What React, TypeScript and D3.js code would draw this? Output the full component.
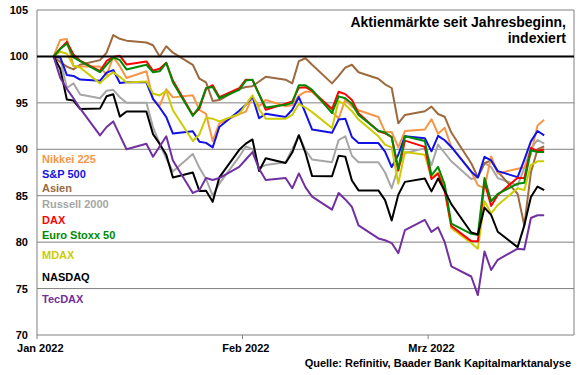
import * as d3 from "d3";

// trading days shown in the chart
const dates = [
  "2022-01-03", "2022-01-04", "2022-01-05", "2022-01-06", "2022-01-07",
  "2022-01-10", "2022-01-11", "2022-01-12", "2022-01-13", "2022-01-14",
  "2022-01-17", "2022-01-18", "2022-01-19", "2022-01-20", "2022-01-21",
  "2022-01-24", "2022-01-25", "2022-01-26", "2022-01-27", "2022-01-28",
  "2022-01-31", "2022-02-01", "2022-02-02", "2022-02-03", "2022-02-04",
  "2022-02-07", "2022-02-08", "2022-02-09", "2022-02-10", "2022-02-11",
  "2022-02-14", "2022-02-15", "2022-02-16", "2022-02-17", "2022-02-18",
  "2022-02-21", "2022-02-22", "2022-02-23", "2022-02-24", "2022-02-25",
  "2022-02-28", "2022-03-01", "2022-03-02", "2022-03-03", "2022-03-04",
  "2022-03-07", "2022-03-08", "2022-03-09", "2022-03-10", "2022-03-11",
  "2022-03-14", "2022-03-15", "2022-03-16", "2022-03-17", "2022-03-18",
];

const nikkei = [
  100, 101.77, 101.88, 98.94, 98.91, 98.91, 98.02, 99.91, 98.95, 97.68,
  98.41, 95.4, 94.67, 96.46, 95.59, 95.82, 94.23, 93.81, 90.9, 92.8,
  93.78, 94.05, 95.63, 94.62, 95.31, 94.64, 94.77, 95.79, 96.2, 96.2,
  94.05, 93.31, 95.38, 94.59, 94.2, 93.47, 91.87, 91.87, 90.2, 91.96,
  92.13, 93.24, 91.67, 92.31, 90.25, 87.6, 86.11, 85.85, 89.23, 87.4,
  87.9, 88.04, 89.48, 92.57, 93.18,
];
const sp500 = [
  100, 99.94, 98.0, 97.9, 97.51, 97.37, 98.26, 98.53, 97.13, 97.21,
  97.21, 95.42, 94.5, 93.46, 91.69, 91.94, 90.82, 90.69, 90.2, 92.4,
  94.14, 94.79, 95.68, 93.34, 93.82, 93.48, 94.26, 95.63, 93.9, 92.12,
  91.77, 93.21, 93.3, 91.32, 90.67, 90.67, 89.75, 88.09, 89.41, 91.41,
  91.19, 89.78, 91.45, 90.97, 90.25, 87.59, 86.95, 89.19, 88.8, 87.65,
  87.0, 88.86, 90.85, 91.97, 91.5,
];
const asien = [
  100, 99.4, 98.9, 98.6, 99.1, 99.6, 100.4, 102.3, 101.9, 101.7,
  101.5, 101.2, 100.0, 101.1, 100.4, 99.1, 97.6, 97.2, 95.2, 95.3,
  96.5, 96.7, 96.8, 97.3, 97.8, 97.5, 97.1, 99.5, 99.8, 99.1,
  97.1, 97.9, 98.8, 99.1, 98.3, 97.6, 97.0, 96.6, 92.8, 93.7,
  94.1, 94.6, 93.8, 93.5, 91.8, 88.5, 87.0, 88.5, 88.8, 87.6,
  85.2, 81.8, 87.5, 90.0, 90.3,
];
const russell = [
  100, 99.8, 96.6, 97.1, 95.9, 95.5, 96.3, 96.4, 95.6, 95.0,
  95.0, 92.4, 90.6, 89.0, 87.6, 89.5, 88.0, 86.8, 85.0, 86.3,
  89.2, 90.3, 90.0, 88.0, 88.3, 88.6, 90.0, 91.5, 89.9, 88.9,
  88.6, 91.0, 91.4, 89.3, 88.6, 88.6, 87.5, 85.8, 88.1, 89.6,
  90.1, 88.3, 90.5, 89.6, 88.7, 86.8, 87.0, 88.5, 88.1, 86.9,
  86.1, 88.0, 90.1, 91.0, 90.6,
];
const dax = [
  100, 100.82, 101.57, 100.2, 99.54, 98.42, 99.51, 99.94, 100.07, 99.14,
  99.46, 98.45, 98.68, 99.32, 97.4, 93.7, 94.4, 96.5, 96.9, 95.62,
  96.57, 97.49, 97.46, 95.93, 94.25, 94.92, 95.14, 96.64, 96.69, 96.28,
  94.34, 96.2, 95.94, 95.3, 93.89, 91.95, 91.71, 91.33, 87.71, 90.93,
  90.26, 86.79, 87.39, 85.5, 81.73, 80.11, 80.09, 86.44, 83.9, 85.07,
  86.94, 86.87, 90.14, 89.81, 89.97,
];
const euroStoxx = [
  100, 100.8, 101.4, 99.9, 99.5, 98.3, 99.1, 99.9, 99.6, 98.6,
  99.1, 98.3, 98.4, 99.3, 97.2, 93.6, 94.6, 96.6, 96.7, 95.5,
  96.4, 97.4, 97.5, 95.9, 94.5, 94.8, 95.0, 96.9, 96.9, 96.4,
  93.9, 95.7, 95.5, 94.9, 93.7, 92.0, 91.8, 91.3, 87.9, 91.4,
  90.9, 87.2, 88.1, 86.2, 82.0, 80.9, 80.8, 86.9, 84.4, 85.2,
  86.3, 86.4, 89.9, 89.7, 89.7,
];
const mdax = [
  100, 100.5, 100.3, 99.0, 98.8, 97.1, 97.8, 98.3, 97.8, 97.2,
  97.3, 96.0, 95.8, 96.3, 94.2, 90.9, 91.6, 93.4, 93.3, 93.0,
  93.8, 94.8, 95.8, 94.3, 93.3, 93.3, 93.7, 94.9, 94.5, 94.0,
  92.3, 95.2, 94.8, 94.1, 93.2, 91.4, 90.5, 90.2, 86.3, 89.7,
  89.4, 86.9, 87.5, 85.8, 81.5, 79.9, 79.3, 84.4, 83.1, 84.0,
  85.8, 85.6, 88.3, 88.7, 88.7,
];
const nasdaq = [
  100, 98.67, 95.37, 95.25, 94.34, 94.38, 95.71, 95.93, 93.52, 94.07,
  94.07, 91.63, 90.58, 89.4, 86.96, 87.51, 85.51, 85.53, 84.34, 86.97,
  89.94, 90.61, 91.06, 87.66, 89.04, 88.52, 89.65, 91.52, 89.6, 87.11,
  87.1, 89.3, 89.21, 86.64, 85.57, 85.57, 84.52, 82.34, 85.1, 86.49,
  86.85, 85.47, 86.86, 85.51, 84.09, 81.04, 80.82, 83.72, 82.93, 81.12,
  79.46, 81.78, 84.86, 85.99, 85.6,
];
const tecdax = [
  100, 97.7, 96.5, 95.5, 94.4, 91.5, 92.4, 93.0, 91.5, 90.0,
  90.6, 89.2, 90.3, 91.4, 88.8, 85.3, 85.6, 86.9, 86.7, 86.9,
  88.1, 88.9, 89.7, 87.9, 86.7, 86.9, 85.8, 87.4, 85.9, 84.9,
  83.5, 85.3, 84.6, 83.8, 81.8, 80.4, 80.2, 79.9, 78.8, 81.3,
  82.4, 81.1, 81.6, 80.0, 77.4, 76.3, 74.3, 79.0, 77.0, 78.1,
  79.3, 79.2, 82.6, 82.9, 82.9,
];

const seriesNames = [
  "Nikkei 225", "S&P 500", "Asien", "Russell 2000", "DAX",
  "Euro Stoxx 50", "MDAX", "NASDAQ", "TecDAX",
];
const seriesValues = [nikkei, sp500, asien, russell, dax, euroStoxx, mdax, nasdaq, tecdax];
const seriesColors = [
  "#F79646", "#1212E6", "#9C6A3E", "#A6A6A6", "#FF0000",
  "#008A00", "#CCCC00", "#000000", "#7030A0",
];

const yTicks = [70, 75, 80, 85, 90, 95, 100, 105];
const monthTicks = ["2022-01-01", "2022-02-01", "2022-03-01"];
const monthLabels = ["Jan 2022", "Feb 2022", "Mrz 2022"];

const titleLines = ["Aktienmärkte seit Jahresbeginn,", "indexiert"];
const source = "Quelle: Refinitiv, Baader Bank Kapitalmarktanalyse";

// layout
const W = 580;
const H = 375;
const left = 37;
const right = 574;
const top = 10;
const bottom = 335;
const legendY = [159, 174, 188, 204, 220, 235, 255, 277, 299];
const drawOrder = [3, 2, 0, 1, 6, 4, 5, 7, 8];
const font = "'Liberation Sans', Arial, sans-serif";

export default function App() {
  const parse = d3.timeParse("%Y-%m-%d");
  const x = d3
    .scaleTime()
    .domain([new Date(2022, 0, 1), new Date(2022, 2, 23)])
    .range([left, right]);
  const y = d3.scaleLinear().domain([70, 105]).range([bottom, top]);

  // points sit in the middle of their day (between tick marks)
  const px = (s: string) => x(d3.timeHour.offset(parse(s) as Date, 12));
  const halfDay = px("2022-01-01") - x(new Date(2022, 0, 1));

  const line = d3
    .line<number>()
    .x((_, i) => px(dates[i]))
    .y((d) => y(d));

  return (
    <svg
      width={W}
      height={H}
      style={{ position: "absolute", left: 0, top: 0, background: "#fff" }}
      fontFamily={font}
      fontWeight="bold"
      fontSize={11}
    >
      {/* grid lines */}
      {yTicks.map((t) => (
        <line
          key={t}
          x1={left}
          x2={right}
          y1={y(t)}
          y2={y(t)}
          stroke="#808080"
          strokeWidth={1}
        />
      ))}
      <line x1={right} x2={right} y1={top} y2={bottom} stroke="#808080" />
      <line x1={left} x2={left} y1={top} y2={bottom} stroke="#808080" />

      {/* y labels */}
      {yTicks.map((t) => (
        <text key={t} x={28} y={y(t) + 4} textAnchor="end" fill="#000">
          {t}
        </text>
      ))}

      {/* x ticks and labels */}
      {monthTicks.map((m, i) => {
        const tx = x(parse(m) as Date);
        return (
          <g key={m}>
            <line x1={tx} x2={tx} y1={bottom} y2={bottom + 4} stroke="#808080" />
            <text x={tx + halfDay} y={352} textAnchor="middle" fill="#000">
              {monthLabels[i]}
            </text>
          </g>
        );
      })}

      {/* series */}
      {drawOrder.map((k) => (
        <path
          key={seriesNames[k]}
          d={line(seriesValues[k]) || ""}
          fill="none"
          stroke={seriesColors[k]}
          strokeWidth={2}
          strokeLinejoin="round"
        />
      ))}

      {/* 100 reference line */}
      <line x1={left} x2={right} y1={y(100)} y2={y(100)} stroke="#000" strokeWidth={2} />

      {/* legend */}
      {seriesNames.map((n, i) => (
        <text key={n} x={42} y={legendY[i] + 4} fill={seriesColors[i]}>
          {n}
        </text>
      ))}

      {/* title */}
      {titleLines.map((t, i) => (
        <text key={t} x={566} y={27 + i * 15.5} textAnchor="end" fontSize={14} fill="#000">
          {t}
        </text>
      ))}

      <text x={571} y={367} textAnchor="end" fill="#000">
        {source}
      </text>
    </svg>
  );
}
